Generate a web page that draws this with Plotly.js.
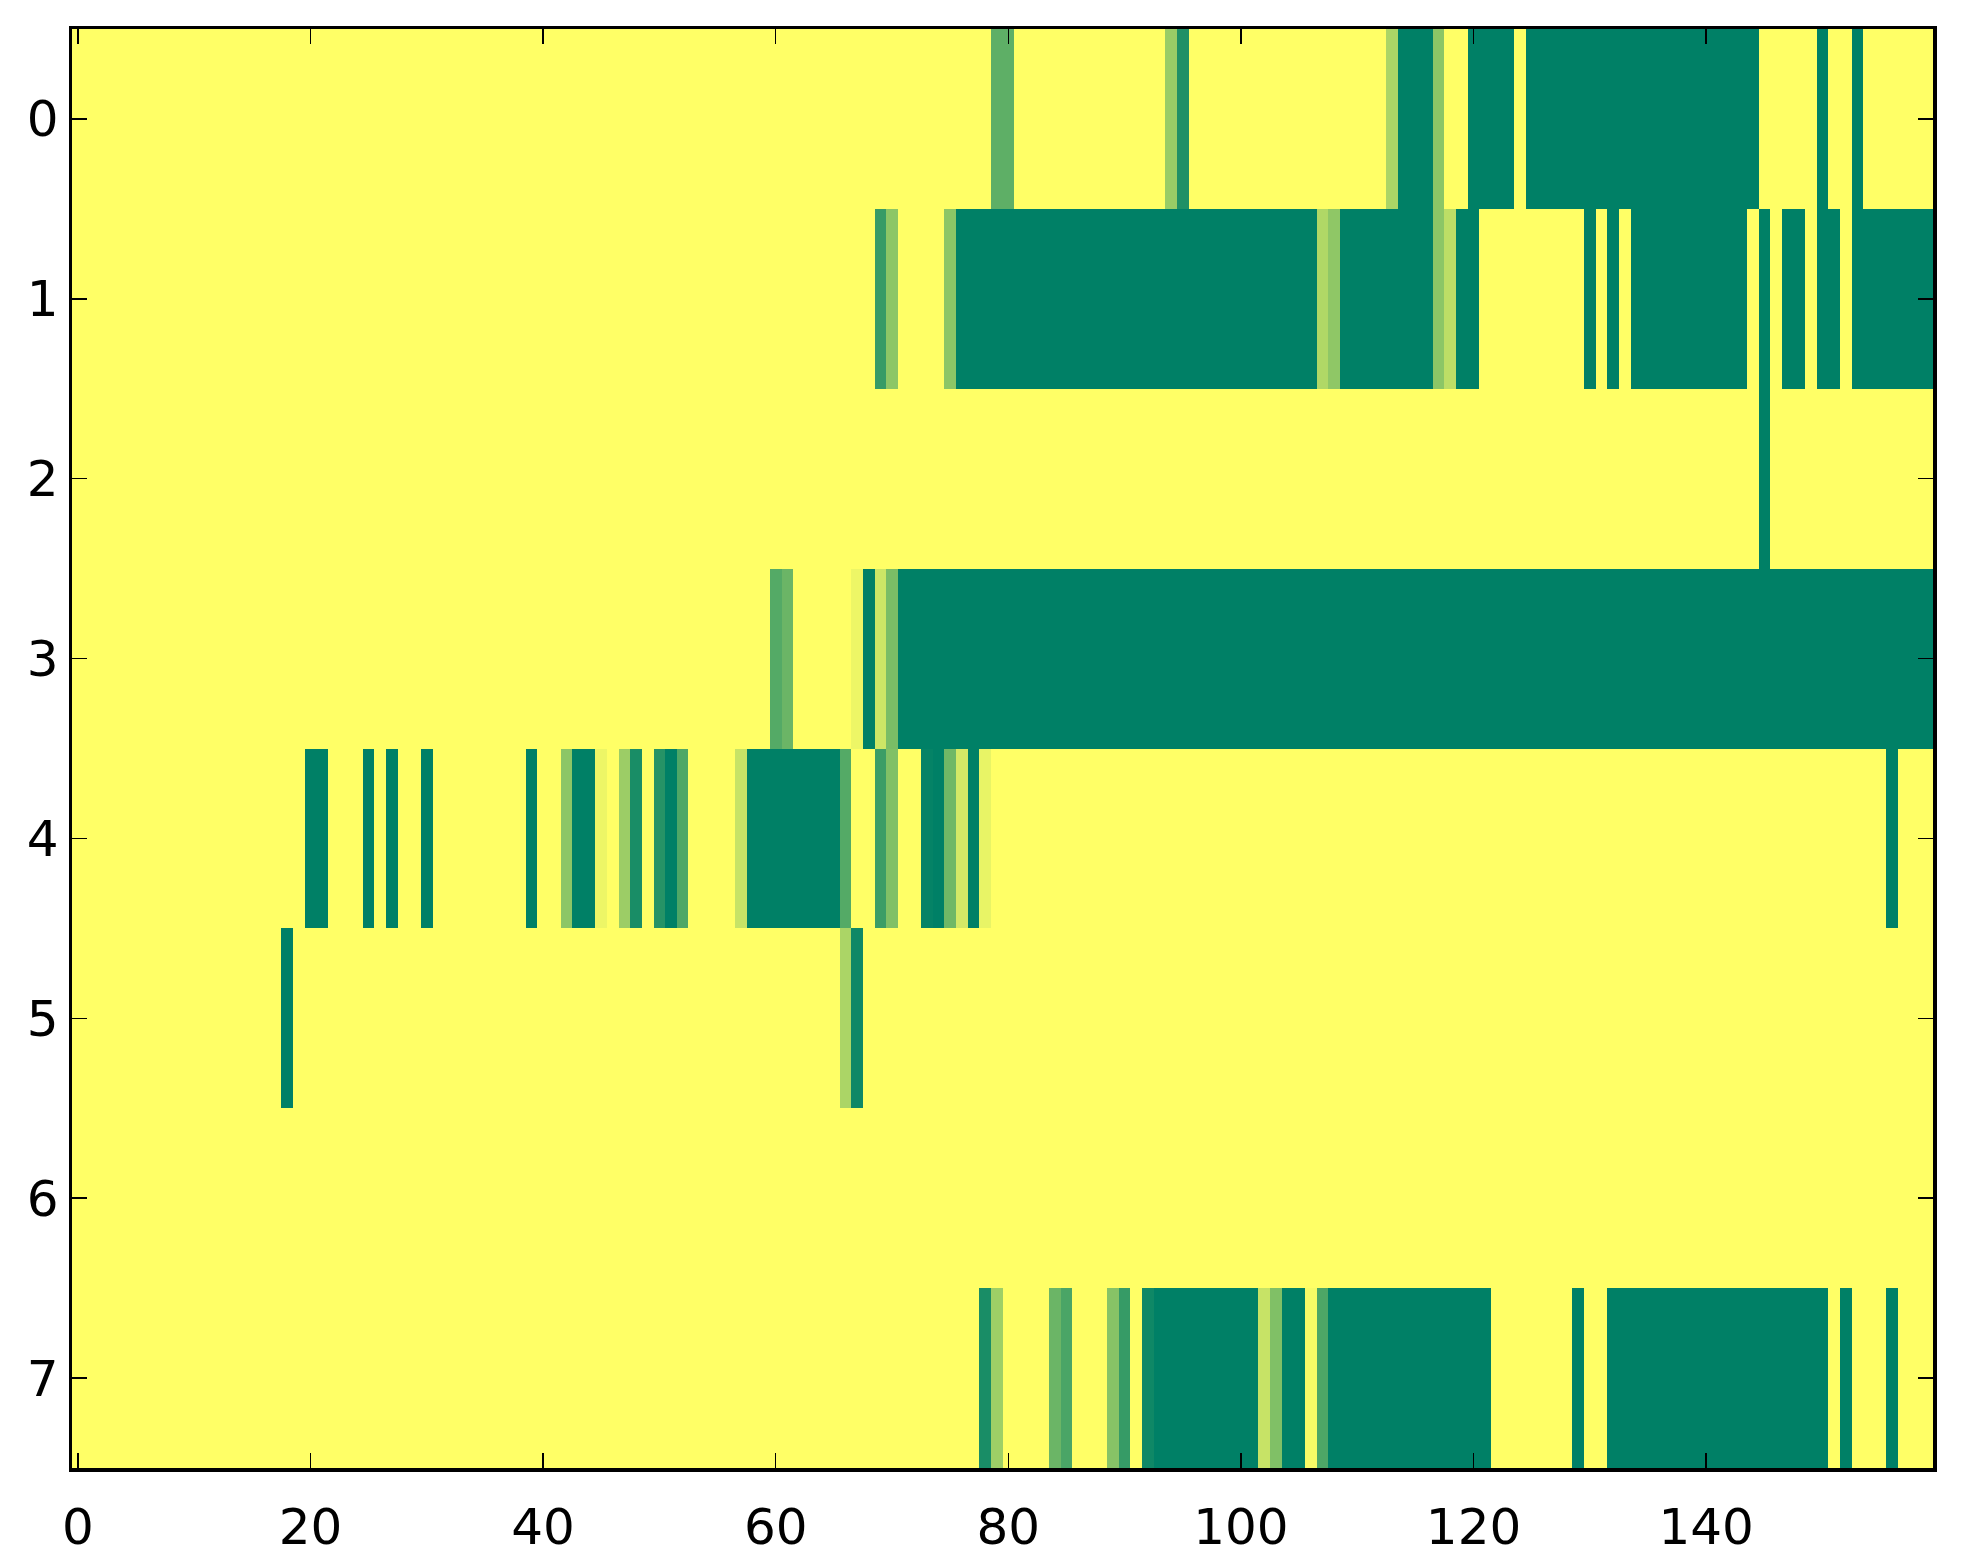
<!DOCTYPE html>
<html>
<head>
<meta charset="utf-8">
<script src="https://cdn.plot.ly/plotly-3.0.1.min.js"></script>
<style>html,body{margin:0;padding:0;background:#fff;}#chart{width:1963px;height:1564px;}</style>
</head>
<body>
<div id="chart"></div>
<script>
// Row values (0 = yellow, 1 = dark green), 160 columns each
const row0 = [
0,0,0,0,0,0,0,0,0,0, 0,0,0,0,0,0,0,0,0,0, 0,0,0,0,0,0,0,0,0,0, 0,0,0,0,0,0,0,0,0,0,
0,0,0,0,0,0,0,0,0,0, 0,0,0,0,0,0,0,0,0,0, 0,0,0,0,0,0,0,0,0,0, 0,0,0,0,0,0,0,0,0,0.63,
0.63,0,0,0,0,0,0,0,0,0, 0,0,0,0,0.4,0.875,0,0,0,0, 0,0,0,0,0,0,0,0,0,0, 0,0,0,0.33,1,1,1,0.45,0,0,
1,1,1,1,0,1,1,1,1,1, 1,1,1,1,1,1,1,1,1,1, 1,1,1,1,1,0,0,0,0,0, 1,0,0,1,0,0,0,0,0,0
];
const row1 = [
0,0,0,0,0,0,0,0,0,0, 0,0,0,0,0,0,0,0,0,0, 0,0,0,0,0,0,0,0,0,0, 0,0,0,0,0,0,0,0,0,0,
0,0,0,0,0,0,0,0,0,0, 0,0,0,0,0,0,0,0,0,0, 0,0,0,0,0,0,0,0,0,0.79, 0.45,0,0,0,0,0.45,1,1,1,1,
1,1,1,1,1,1,1,1,1,1, 1,1,1,1,1,1,1,1,1,1, 1,1,1,1,1,1,1,0.31,0.44,1, 1,1,1,1,1,1,1,0.45,0.26,1,
1,0,0,0,0,0,0,0,0,0, 1,0,1,0,1,1,1,1,1,1, 1,1,1,1,0,1,0,1,1,0, 1,1,0,1,1,1,1,1,1,1
];
const row2 = [
0,0,0,0,0,0,0,0,0,0, 0,0,0,0,0,0,0,0,0,0, 0,0,0,0,0,0,0,0,0,0, 0,0,0,0,0,0,0,0,0,0,
0,0,0,0,0,0,0,0,0,0, 0,0,0,0,0,0,0,0,0,0, 0,0,0,0,0,0,0,0,0,0, 0,0,0,0,0,0,0,0,0,0,
0,0,0,0,0,0,0,0,0,0, 0,0,0,0,0,0,0,0,0,0, 0,0,0,0,0,0,0,0,0,0, 0,0,0,0,0,0,0,0,0,0,
0,0,0,0,0,0,0,0,0,0, 0,0,0,0,0,0,0,0,0,0, 0,0,0,0,0,1,0,0,0,0, 0,0,0,0,0,0,0,0,0,0
];
const row3 = [
0,0,0,0,0,0,0,0,0,0, 0,0,0,0,0,0,0,0,0,0, 0,0,0,0,0,0,0,0,0,0, 0,0,0,0,0,0,0,0,0,0,
0,0,0,0,0,0,0,0,0,0, 0,0,0,0,0,0,0,0,0,0, 0.67,0.58,0,0,0,0,0,0.07,1,0.2, 0.52,1,1,1,1,1,1,1,1,1,
1,1,1,1,1,1,1,1,1,1, 1,1,1,1,1,1,1,1,1,1, 1,1,1,1,1,1,1,1,1,1, 1,1,1,1,1,1,1,1,1,1,
1,1,1,1,1,1,1,1,1,1, 1,1,1,1,1,1,1,1,1,1, 1,1,1,1,1,1,1,1,1,1, 1,1,1,1,1,1,1,1,1,1
];
const row4 = [
0,0,0,0,0,0,0,0,0,0, 0,0,0,0,0,0,0,0,0,0, 1,1,0,0,0,1,0,1,0,0, 1,0,0,0,0,0,0,0,0,1,
0,0,0.45,1,1,0.07,0,0.39,0.9,0, 0.85,1,0.69,0,0,0,0,0.22,1,1, 1,1,1,1,1,1,0.67,0,0,0.77, 0.5,0,0,0.98,1,0.56,0.17,1,0.09,0,
0,0,0,0,0,0,0,0,0,0, 0,0,0,0,0,0,0,0,0,0, 0,0,0,0,0,0,0,0,0,0, 0,0,0,0,0,0,0,0,0,0,
0,0,0,0,0,0,0,0,0,0, 0,0,0,0,0,0,0,0,0,0, 0,0,0,0,0,0,0,0,0,0, 0,0,0,0,0,0,1,0,0,0
];
const row5 = [
0,0,0,0,0,0,0,0,0,0, 0,0,0,0,0,0,0,0,1,0, 0,0,0,0,0,0,0,0,0,0, 0,0,0,0,0,0,0,0,0,0,
0,0,0,0,0,0,0,0,0,0, 0,0,0,0,0,0,0,0,0,0, 0,0,0,0,0,0,0.33,0.94,0,0, 0,0,0,0,0,0,0,0,0,0,
0,0,0,0,0,0,0,0,0,0, 0,0,0,0,0,0,0,0,0,0, 0,0,0,0,0,0,0,0,0,0, 0,0,0,0,0,0,0,0,0,0,
0,0,0,0,0,0,0,0,0,0, 0,0,0,0,0,0,0,0,0,0, 0,0,0,0,0,0,0,0,0,0, 0,0,0,0,0,0,0,0,0,0
];
const row6 = [
0,0,0,0,0,0,0,0,0,0, 0,0,0,0,0,0,0,0,0,0, 0,0,0,0,0,0,0,0,0,0, 0,0,0,0,0,0,0,0,0,0,
0,0,0,0,0,0,0,0,0,0, 0,0,0,0,0,0,0,0,0,0, 0,0,0,0,0,0,0,0,0,0, 0,0,0,0,0,0,0,0,0,0,
0,0,0,0,0,0,0,0,0,0, 0,0,0,0,0,0,0,0,0,0, 0,0,0,0,0,0,0,0,0,0, 0,0,0,0,0,0,0,0,0,0,
0,0,0,0,0,0,0,0,0,0, 0,0,0,0,0,0,0,0,0,0, 0,0,0,0,0,0,0,0,0,0, 0,0,0,0,0,0,0,0,0,0
];
const row7 = [
0,0,0,0,0,0,0,0,0,0, 0,0,0,0,0,0,0,0,0,0, 0,0,0,0,0,0,0,0,0,0, 0,0,0,0,0,0,0,0,0,0,
0,0,0,0,0,0,0,0,0,0, 0,0,0,0,0,0,0,0,0,0, 0,0,0,0,0,0,0,0,0,0, 0,0,0,0,0,0,0,0,0.9,0.38,
0,0,0,0,0.58,0.71,0,0,0,0.47, 0.79,0,0.94,1,1,1,1,1,1,1, 1,1,0.22,0.5,1,1,0.03,0.7,1,1, 1,1,1,1,1,1,1,1,1,1,
1,1,0,0,0,0,0,0,0,1, 0,0,1,1,1,1,1,1,1,1, 1,1,1,1,1,1,1,1,1,1, 1,0,1,0,0,0,1,0,0,0
];
const rowLabels = [0, 1, 2, 3, 4, 5, 6, 7];
const xTickVals = [0, 20, 40, 60, 80, 100, 120, 140];

const z = [row0, row1, row2, row3, row4, row5, row6, row7];

const font = {family: 'DejaVu Sans', size: 50, color: '#000'};
const axisCommon = {
  showline: true, linecolor: '#000', linewidth: 3.5, mirror: 'allticks',
  ticks: 'inside', ticklen: 15, tickwidth: 1.5, tickcolor: '#000',
  showgrid: false, zeroline: false, tickfont: font
};

Plotly.newPlot('chart', [{
  type: 'heatmap',
  z: z,
  y: rowLabels,
  zmin: 0, zmax: 1,
  zsmooth: false,
  showscale: false,
  colorscale: [[0, 'rgb(255,255,102)'], [1, 'rgb(0,128,102)']]
}], {
  width: 1963, height: 1564,
  margin: {l: 72, r: 30, t: 29, b: 96, pad: 0},
  paper_bgcolor: '#fff', plot_bgcolor: '#fff',
  xaxis: Object.assign({}, axisCommon, {range: [-0.5, 159.5], tickvals: xTickVals, ticklabelstandoff: 12}),
  yaxis: Object.assign({}, axisCommon, {range: [7.5, -0.5], tickvals: rowLabels, ticklabelstandoff: 0})
}, {displayModeBar: false, staticPlot: true});
</script>
</body>
</html>
